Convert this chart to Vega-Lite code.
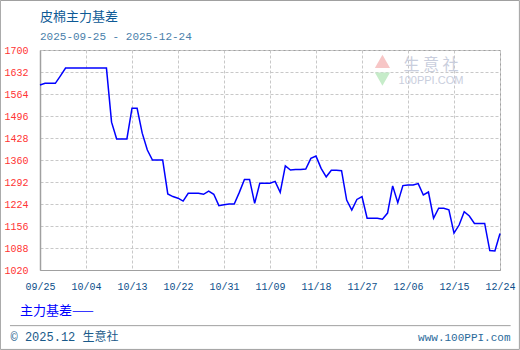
{
  "$schema": "https://vega.github.io/schema/vega-lite/v6.json",
  "width": 460,
  "height": 220,
  "autosize": {"type": "none"},
  "padding": {"left": 40, "top": 50, "right": 20, "bottom": 80},
  "background": "#ffffff",
  "title": {
    "text": "皮棉主力基差",
    "subtitle": "2025-09-25 - 2025-12-24",
    "anchor": "start",
    "frame": "group",
    "offset": 0,
    "dy": 42,
    "font": "Noto Sans CJK SC",
    "fontSize": 13,
    "fontWeight": "normal",
    "color": "#0d5a96",
    "subtitleFont": "Liberation Mono",
    "subtitleFontSize": 11,
    "subtitleColor": "#4a7fab",
    "subtitlePadding": 7
  },
  "data": {
    "values": [
      {"date": "2025-09-25", "value": 1592},
      {"date": "2025-09-26", "value": 1597},
      {"date": "2025-09-27", "value": 1597},
      {"date": "2025-09-28", "value": 1597},
      {"date": "2025-09-29", "value": 1620},
      {"date": "2025-09-30", "value": 1644},
      {"date": "2025-10-01", "value": 1644},
      {"date": "2025-10-02", "value": 1644},
      {"date": "2025-10-03", "value": 1644},
      {"date": "2025-10-04", "value": 1644},
      {"date": "2025-10-05", "value": 1644},
      {"date": "2025-10-06", "value": 1644},
      {"date": "2025-10-07", "value": 1644},
      {"date": "2025-10-08", "value": 1644},
      {"date": "2025-10-09", "value": 1477},
      {"date": "2025-10-10", "value": 1425},
      {"date": "2025-10-11", "value": 1425},
      {"date": "2025-10-12", "value": 1425},
      {"date": "2025-10-13", "value": 1520},
      {"date": "2025-10-14", "value": 1520},
      {"date": "2025-10-15", "value": 1443},
      {"date": "2025-10-16", "value": 1391},
      {"date": "2025-10-17", "value": 1360},
      {"date": "2025-10-18", "value": 1360},
      {"date": "2025-10-19", "value": 1360},
      {"date": "2025-10-20", "value": 1255},
      {"date": "2025-10-21", "value": 1247},
      {"date": "2025-10-22", "value": 1242},
      {"date": "2025-10-23", "value": 1233},
      {"date": "2025-10-24", "value": 1257},
      {"date": "2025-10-25", "value": 1257},
      {"date": "2025-10-26", "value": 1257},
      {"date": "2025-10-27", "value": 1254},
      {"date": "2025-10-28", "value": 1264},
      {"date": "2025-10-29", "value": 1254},
      {"date": "2025-10-30", "value": 1219},
      {"date": "2025-10-31", "value": 1222},
      {"date": "2025-11-01", "value": 1224},
      {"date": "2025-11-02", "value": 1224},
      {"date": "2025-11-03", "value": 1260},
      {"date": "2025-11-04", "value": 1300},
      {"date": "2025-11-05", "value": 1300},
      {"date": "2025-11-06", "value": 1226},
      {"date": "2025-11-07", "value": 1288},
      {"date": "2025-11-08", "value": 1288},
      {"date": "2025-11-09", "value": 1288},
      {"date": "2025-11-10", "value": 1294},
      {"date": "2025-11-11", "value": 1260},
      {"date": "2025-11-12", "value": 1342},
      {"date": "2025-11-13", "value": 1329},
      {"date": "2025-11-14", "value": 1331},
      {"date": "2025-11-15", "value": 1331},
      {"date": "2025-11-16", "value": 1332},
      {"date": "2025-11-17", "value": 1365},
      {"date": "2025-11-18", "value": 1372},
      {"date": "2025-11-19", "value": 1334},
      {"date": "2025-11-20", "value": 1308},
      {"date": "2025-11-21", "value": 1328},
      {"date": "2025-11-22", "value": 1328},
      {"date": "2025-11-23", "value": 1327},
      {"date": "2025-11-24", "value": 1236},
      {"date": "2025-11-25", "value": 1205},
      {"date": "2025-11-26", "value": 1238},
      {"date": "2025-11-27", "value": 1247},
      {"date": "2025-11-28", "value": 1180},
      {"date": "2025-11-29", "value": 1180},
      {"date": "2025-11-30", "value": 1180},
      {"date": "2025-12-01", "value": 1177},
      {"date": "2025-12-02", "value": 1196},
      {"date": "2025-12-03", "value": 1280},
      {"date": "2025-12-04", "value": 1228},
      {"date": "2025-12-05", "value": 1281},
      {"date": "2025-12-06", "value": 1283},
      {"date": "2025-12-07", "value": 1283},
      {"date": "2025-12-08", "value": 1287},
      {"date": "2025-12-09", "value": 1252},
      {"date": "2025-12-10", "value": 1261},
      {"date": "2025-12-11", "value": 1180},
      {"date": "2025-12-12", "value": 1211},
      {"date": "2025-12-13", "value": 1211},
      {"date": "2025-12-14", "value": 1206},
      {"date": "2025-12-15", "value": 1134},
      {"date": "2025-12-16", "value": 1159},
      {"date": "2025-12-17", "value": 1200},
      {"date": "2025-12-18", "value": 1187},
      {"date": "2025-12-19", "value": 1164},
      {"date": "2025-12-20", "value": 1164},
      {"date": "2025-12-21", "value": 1164},
      {"date": "2025-12-22", "value": 1080},
      {"date": "2025-12-23", "value": 1079},
      {"date": "2025-12-24", "value": 1133}
    ]
  },
  "layer": [
    {
      "mark": {"type": "line", "strokeWidth": 1.5},
      "encoding": {
        "x": {
          "field": "date",
          "type": "temporal",
          "scale": {
            "type": "utc",
            "domain": [
              {"year": 2025, "month": 9, "date": 25, "utc": true},
              {"year": 2025, "month": 12, "date": 24, "utc": true}
            ],
            "nice": false
          },
          "axis": {
            "values": [
              {"year": 2025, "month": 9, "date": 25, "utc": true},
              {"year": 2025, "month": 10, "date": 4, "utc": true},
              {"year": 2025, "month": 10, "date": 13, "utc": true},
              {"year": 2025, "month": 10, "date": 22, "utc": true},
              {"year": 2025, "month": 10, "date": 31, "utc": true},
              {"year": 2025, "month": 11, "date": 9, "utc": true},
              {"year": 2025, "month": 11, "date": 18, "utc": true},
              {"year": 2025, "month": 11, "date": 27, "utc": true},
              {"year": 2025, "month": 12, "date": 6, "utc": true},
              {"year": 2025, "month": 12, "date": 15, "utc": true},
              {"year": 2025, "month": 12, "date": 24, "utc": true}
            ],
            "tickCount": 30,
            "labelExpr": "utcFormat(datum.value, '%m/%d')",
            "labelOverlap": false,
            "labelFlush": false,
            "labelColor": "#0d4f8b",
            "labelPadding": 11,
            "title": "© 2025.12 生意社",
            "titleFont": "Liberation Mono, Noto Sans CJK SC",
            "titleFontSize": 12,
            "titleColor": "#1a5a8a",
            "titleAlign": "left",
            "titleBaseline": "alphabetic",
            "titleX": -30,
            "titleY": 70
          }
        },
        "y": {
          "field": "value",
          "type": "quantitative",
          "scale": {"domain": [1020, 1700], "nice": false, "zero": false},
          "axis": {
            "values": [1020, 1088, 1156, 1224, 1292, 1360, 1428, 1496, 1564, 1632, 1700],
            "tickCount": 30,
            "labelExpr": "format(datum.value, 'd')",
            "labelOverlap": false,
            "labelFlush": false,
            "labelColor": "#ff3333",
            "labelPadding": 12,
            "domainWidth": 1.5,
            "title": "www.100PPI.com",
            "titleAngle": 0,
            "titleFont": "Liberation Mono",
            "titleFontSize": 11,
            "titleColor": "#2a6a9a",
            "titleAlign": "right",
            "titleBaseline": "alphabetic",
            "titleX": 470,
            "titleY": 290
          }
        },
        "color": {
          "datum": "主力基差",
          "scale": {"range": ["#0000ff"]},
          "legend": {
            "orient": "none",
            "legendX": -37,
            "legendY": 254,
            "title": null,
            "padding": 0,
            "labelFont": "Noto Sans CJK SC",
            "labelFontSize": 13,
            "labelColor": "#0000ff",
            "labelOffset": 4,
            "symbolOpacity": 0,
            "symbolSize": 0,
            "labelExpr": "datum.label + '——'"
          }
        }
      }
    },
    {
      "data": {"values": [{}]},
      "mark": {"type": "point", "shape": "triangle-up", "filled": true, "size": 230, "color": "#f7c6c6", "opacity": 1},
      "encoding": {
        "x": {"datum": {"year": 2025, "month": 12, "date": 1, "utc": true}, "type": "temporal"},
        "y": {"datum": 1665}
      }
    },
    {
      "data": {"values": [{}]},
      "mark": {"type": "point", "shape": "triangle-down", "filled": true, "size": 230, "color": "#c6ecc9", "opacity": 1},
      "encoding": {
        "x": {"datum": {"year": 2025, "month": 12, "date": 1, "utc": true}, "type": "temporal"},
        "y": {"datum": 1610}
      }
    },
    {
      "data": {"values": [{}]},
      "mark": {"type": "text", "text": "生  意  社", "font": "Noto Sans CJK SC", "fontSize": 16, "color": "#c9cedd", "align": "center", "baseline": "middle"},
      "encoding": {
        "x": {"datum": {"year": 2025, "month": 12, "date": 10, "hours": 12, "utc": true}, "type": "temporal"},
        "y": {"datum": 1655}
      }
    },
    {
      "data": {"values": [{}]},
      "mark": {"type": "text", "text": "100PPI.COM", "font": "Liberation Sans", "fontSize": 11, "color": "#c9cedd", "align": "center", "baseline": "middle"},
      "encoding": {
        "x": {"datum": {"year": 2025, "month": 12, "date": 10, "hours": 12, "utc": true}, "type": "temporal"},
        "y": {"datum": 1603}
      }
    },
    {
      "data": {"values": [{}]},
      "mark": {"type": "rule", "color": "#a0a0a0", "strokeWidth": 1},
      "encoding": {
        "x": {"datum": {"year": 2025, "month": 9, "date": 19, "hours": 3, "utc": true}, "type": "temporal"},
        "x2": {"datum": {"year": 2025, "month": 12, "date": 26, "hours": 2, "utc": true}},
        "y": {"datum": 848}
      }
    },
    {
      "data": {"values": [{}]},
      "mark": {"type": "rect", "filled": false, "stroke": "#a0a0a0", "strokeWidth": 1},
      "encoding": {
        "x": {"datum": {"year": 2025, "month": 9, "date": 17, "hours": 6, "utc": true}, "type": "temporal"},
        "x2": {"datum": {"year": 2025, "month": 12, "date": 27, "hours": 19, "utc": true}},
        "y": {"datum": 1853},
        "y2": {"datum": 774.5}
      }
    }
  ],
  "config": {
    "view": {"stroke": "#a0a0a0", "strokeWidth": 1},
    "axis": {
      "labelFont": "Liberation Mono",
      "labelFontSize": 10,
      "labelOverlap": false,
      "labelFlush": false,
      "ticks": false,
      "grid": true,
      "gridColor": "#c8c8c8",
      "gridDash": [3, 2],
      "domainColor": "#a0a0a0",
      "titleFontWeight": "normal"
    }
  }
}
